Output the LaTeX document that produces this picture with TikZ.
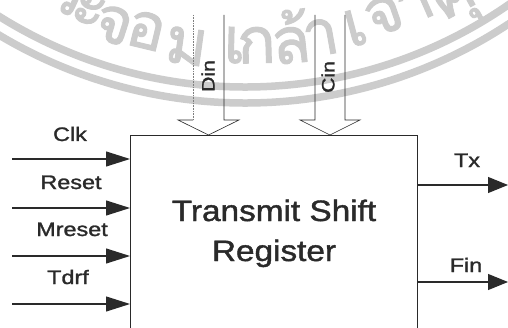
\documentclass[tikz,border=0pt]{standalone}
\usepackage{fontspec}
\setmainfont{Liberation Sans}
\newfontfamily\lblfont{Liberation Sans}[FakeBold=1.3]
\newfontfamily\thaifont{Loma}[Script=Thai,FakeBold=1.5]
\usetikzlibrary{arrows.meta,calc}
\definecolor{ink}{HTML}{2A2A2A}
\definecolor{wm}{HTML}{CCCCCC}
\newcommand{\wide}[2]{\scalebox{#1}[1]{#2}}
\tikzset{
  sig/.style={draw=ink, line width=1.1pt, -{Triangle[length=24pt,width=15pt]}},
  outsig/.style={draw=ink, line width=1.1pt, -{Triangle[length=20pt,width=16pt]}},
  lbl/.style={font=\lblfont\fontsize{19.5}{22}\selectfont, anchor=base, text=ink, inner sep=0pt},
  vlbl/.style={font=\lblfont\fontsize{18}{20}\selectfont, rotate=90, text=ink, inner sep=0pt},
  title/.style={font=\lblfont\fontsize{29.5}{40}\selectfont, align=center, text=ink, inner sep=0pt, anchor=base},
  blockarrow/.style={draw=ink, line width=0.6pt, line join=miter},
  wmband/.style={draw=wm, line width=7.5pt},
  wmtext/.style={font=\thaifont\fontsize{64}{66}\selectfont, text=wm, anchor=base, inner sep=0pt},
}
\begin{document}
\begin{tikzpicture}[x=1pt,y=1pt]
\useasboundingbox (0,0) rectangle (508,327);
\clip (0,0) rectangle (508,327);
\fill[white] (0,0) rectangle (508,327);
% watermark
\coordinate (wc) at (245,703);
\draw[wmband] (wc) ++(-136:463) arc[start angle=-136, end angle=-44, radius=463];
\draw[wmband] (wc) ++(-136:479) arc[start angle=-136, end angle=-44, radius=479];
\foreach \x/\y/\a/\t [count=\i] in {61/315/-24.8/ร, 83/302/-21.8/ะ, 108/285/-17.9/จ, 142/279/-13.5/อ, 184/263/-8.0/ม, 234/264/-1.4/เ, 257/264/1.6/ก, 293/264/6.1/ล้, 324/272/10.1/า, 360/282/15.0/เ, 390/295/19.2/จ้, 422/307/23.7/า, 461/315/28.6/คุ}
  \node[wmtext, rotate=\a] (wm\i) at (\x,\y) {\t};
% main box
\node[draw=ink, line width=0.8pt, minimum width=287pt, minimum height=212pt, anchor=north west, inner sep=0pt] (tsr) at (130,192) {};
\node[title] (t1) at (274,106) {\wide{1.13}{Transmit Shift}};
\node[title] (t2) at (274,66) {\wide{1.13}{Register}};
% inputs
\coordinate (iclk) at (12,168);
\coordinate (irst) at (12,119);
\coordinate (imr) at (12,71);
\coordinate (itd) at (12,23);
\draw[sig] (iclk) -- (iclk -| tsr.west);
\draw[sig] (irst) -- (irst -| tsr.west);
\draw[sig] (imr) -- (imr -| tsr.west);
\draw[sig] (itd) -- (itd -| tsr.west);
\node[lbl] (lclk) at (70,186) {\wide{1.2}{Clk}};
\node[lbl] (lrst) at (71,138) {\wide{1.2}{Reset}};
\node[lbl] (lmr) at (72,91) {\wide{1.2}{Mreset}};
\node[lbl] (ltd) at (68,43) {\wide{1.2}{Tdrf}};
% outputs
\coordinate (otx) at (508,142);
\coordinate (ofin) at (508,45);
\draw[outsig] (otx -| tsr.east) -- (otx);
\draw[outsig] (ofin -| tsr.east) -- (ofin);
\node[lbl] (ltx) at (467,160) {\wide{1.2}{Tx}};
\node[lbl] (lfin) at (466,55) {\wide{1.2}{Fin}};
% top block arrows
\coordinate (dtip) at (208.5,192);
\coordinate (ctip) at (330,192);
\draw[blockarrow, densely dotted, draw=ink!60] ($(dtip)+(-15.5,120)$) -- ($(dtip)+(-15.5,15)$);
\draw[blockarrow] ($(dtip)+(-15.5,15)$) -- ($(dtip)+(-30.5,15)$) -- (dtip) -- ($(dtip)+(30.5,15)$) -- ($(dtip)+(15.5,15)$) -- ($(dtip)+(15.5,120)$);
\draw[blockarrow] ($(ctip)+(-15,120)$) -- ($(ctip)+(-15,15)$) -- ($(ctip)+(-30,15)$) -- (ctip) -- ($(ctip)+(30,15)$) -- ($(ctip)+(15,15)$) -- ($(ctip)+(15,120)$);
\node[vlbl] (ldin) at (208,251) {\wide{1.18}{Din}};
\node[vlbl] (lcin) at (328,250) {\wide{1.18}{Cin}};
\end{tikzpicture}
\end{document}
